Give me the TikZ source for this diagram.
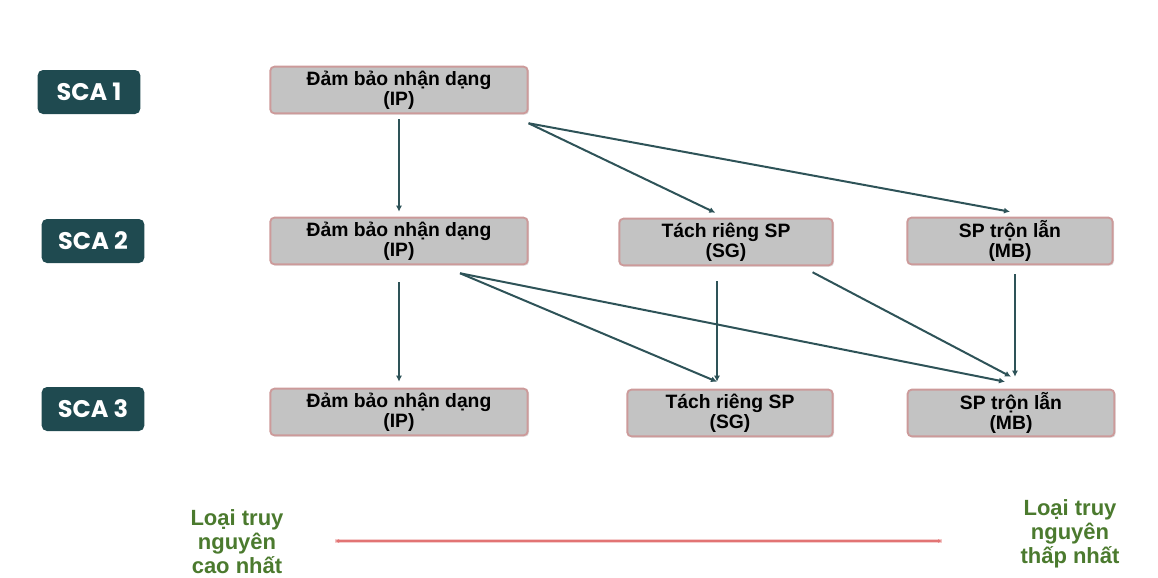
\documentclass[tikz,border=0pt]{standalone}
\usepackage{fontspec}
\setmainfont{Liberation Sans}
\newfontfamily\scafont{Poppins}
\usetikzlibrary{arrows.meta, positioning, shadows}
\usepackage{xcolor}

\definecolor{scateal}{HTML}{1F4A50}
\definecolor{boxgray}{HTML}{C3C3C3}
\definecolor{boxrim}{HTML}{CC9A9A}
\definecolor{arrowteal}{HTML}{2E5358}
\definecolor{rangered}{HTML}{E27474}
\definecolor{labelgreen}{HTML}{4B7A2E}

\begin{document}
\begin{tikzpicture}[x=0.75pt, y=-0.75pt, thick]

	% Define style for level labels
	\tikzstyle{scabox} = [rectangle, fill=scateal, text=white,
						rounded corners=4pt, minimum width=77pt, minimum height=33pt,
						font=\scafont\bfseries\fontsize{18}{20}\selectfont]

	% Define style for boxes
	\tikzstyle{block} = [rectangle, draw=boxrim, line width=1.4pt, fill=boxgray,
						align=center, rounded corners=3pt, minimum height=35pt,
						drop shadow={shadow xshift=1pt, shadow yshift=-1pt, opacity=0.25},
						font=\bfseries\fontsize{14.5}{15}\selectfont, inner sep=1pt]

	% Define style for arrows
	\tikzstyle{line} = [draw=arrowteal, line width=1.5pt, -{Latex[length=4.5pt, width=4.5pt]}]

	% Define style for bottom labels
	\tikzstyle{side} = [align=center, text=labelgreen,
						font=\bfseries\fontsize{16.5}{18}\selectfont]

	\useasboundingbox (0,0) rectangle (1158,578);

	% Place level labels
	\node [scabox] (sca1) at (89,92) {SCA 1};
	\node [scabox] (sca2) at (93,241) {SCA 2};
	\node [scabox] (sca3) at (93,409) {SCA 3};

	% Place nodes
	\node [block, minimum width=193pt] (ip1) at (399,90) {Đảm bảo nhận dạng\\(IP)};
	\node [block, minimum width=193pt] (ip2) at (399,241) {Đảm bảo nhận dạng\\(IP)};
	\node [block, minimum width=160pt] (sg2) at (726,242) {Tách riêng SP\\(SG)};
	\node [block, minimum width=154pt] (mb2) at (1010,241) {SP trộn lẫn\\(MB)};
	\node [block, minimum width=193pt] (ip3) at (399,412) {Đảm bảo nhận dạng\\(IP)};
	\node [block, minimum width=154pt] (sg3) at (730,413) {Tách riêng SP\\(SG)};
	\node [block, minimum width=155pt] (mb3) at (1011,413) {SP trộn lẫn\\(MB)};

	% Draw edges
	\path [line] ([yshift=-3.75pt]ip1.south) -- ([yshift=3.75pt]ip2.north);
	\path [line] ([yshift=-6.75pt]ip1.south east) -- ([xshift=-8pt, yshift=3.75pt]sg2.north);
	\path [line] ([yshift=-6.75pt]ip1.south east) -- ([yshift=3.75pt]mb2.north);
	\path [line] ([yshift=-12.75pt]ip2.south) -- ([yshift=4.5pt]ip3.north);
	\path [line] ([xshift=45.75pt, yshift=-6pt]ip2.south) -- ([xshift=-9.75pt, yshift=5.25pt]sg3.north);
	\path [line] ([xshift=45.75pt, yshift=-6pt]ip2.south) -- ([xshift=-4.5pt, yshift=5.25pt]mb3.north);
	\path [line] ([xshift=-6.75pt, yshift=-11.25pt]sg2.south) -- ([xshift=-9.75pt, yshift=5.25pt]sg3.north);
	\path [line] ([xshift=-15.75pt, yshift=-4.5pt]sg2.south east) -- ([yshift=9pt]mb3.north);
	\path [line] ([xshift=3.75pt, yshift=-6.75pt]mb2.south) -- ([xshift=3pt, yshift=9pt]mb3.north);

	% Bottom range
	\node [side] (high) at (237,542) {Loại truy\\nguyên\\cao nhất};
	\node [side] (low) at (1070,534) {Loại truy\\nguyên\\thấp nhất};
	\coordinate (rangeL) at (335,541);
	\coordinate (rangeR) at (942,541);
	\draw [rangered!35, line width=3pt] (rangeL) -- (rangeR);
	\draw [rangered, line width=1.2pt, {Latex[length=3pt, width=3pt]}-{Latex[length=3pt, width=3pt]}] (rangeL) -- (rangeR);
\end{tikzpicture}
\end{document}
